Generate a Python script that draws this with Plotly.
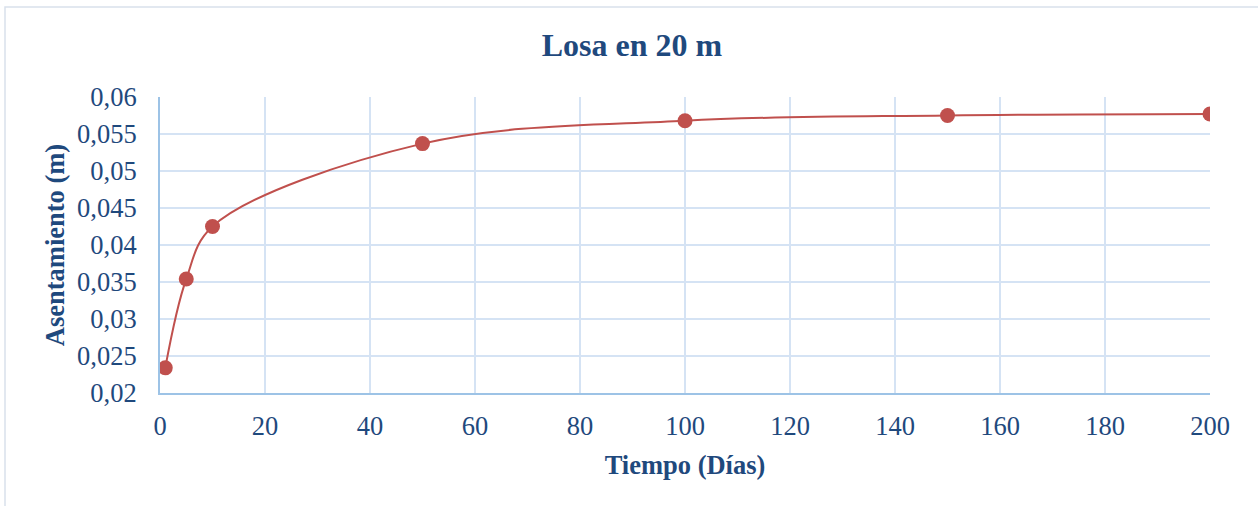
import plotly.graph_objects as go

# Settlement of a 20 m slab over time
dias = [1, 5, 10, 50, 100, 150, 200]
asentamiento = [0.0234, 0.0354, 0.0425, 0.0537, 0.0568, 0.0575, 0.0577]

y_ticks = [0.02, 0.025, 0.03, 0.035, 0.04, 0.045, 0.05, 0.055, 0.06]
y_tick_text = ["0,02", "0,025", "0,03", "0,035", "0,04", "0,045", "0,05", "0,055", "0,06"]
x_ticks = [0, 20, 40, 60, 80, 100, 120, 140, 160, 180, 200]

W, H = 1258, 506
M = dict(l=160, r=48, t=97, b=113)

TEXT = "#1F497D"
GRID = "#D5E3F4"
AXIS = "#9DC3E6"
RED = "#C0504D"
FONT = "Liberation Serif"

fig = go.Figure()
fig.add_trace(go.Scatter(
    x=dias, y=asentamiento,
    mode="lines+markers",
    line=dict(color=RED, width=2, shape="spline", smoothing=1),
    marker=dict(color=RED, size=15),
    showlegend=False,
))

# outer chart frame, pixel offsets converted to paper coordinates
pw = W - M["l"] - M["r"]
ph = H - M["t"] - M["b"]


def px_x(px):
    return (px - M["l"]) / pw


def px_y(py):
    return (H - M["b"] - py) / ph


fig.add_shape(
    type="rect", xref="paper", yref="paper",
    x0=px_x(5), x1=px_x(W + 5), y0=px_y(H + 5), y1=px_y(7),
    line=dict(color="#D9E1EC", width=1.5), fillcolor="rgba(0,0,0,0)", layer="below",
)

fig.update_layout(
    width=W, height=H,
    margin=M,
    paper_bgcolor="white", plot_bgcolor="white",
    font=dict(family=FONT, color=TEXT, size=26.5),
    title=dict(text="<b>Losa en 20 m</b>", x=632 / W, xref="container", xanchor="center",
               y=1 - 45 / H, yref="container", yanchor="middle",
               font=dict(size=32, color=TEXT, family=FONT)),
    xaxis=dict(
        range=[0, 200], tickvals=x_ticks, showgrid=True, gridcolor=GRID, gridwidth=1.5,
        showline=True, linecolor=AXIS, linewidth=2, zeroline=False,
        ticks="", ticklabelstandoff=8,
        title=dict(text="<b>Tiempo (Días)</b>", font=dict(size=26.5, color=TEXT, family=FONT), standoff=16),
    ),
    yaxis=dict(
        range=[0.02, 0.06], tickvals=y_ticks, ticktext=y_tick_text, showgrid=True,
        gridcolor=GRID, gridwidth=1.5, showline=True, linecolor=AXIS, linewidth=2,
        zeroline=False, ticks="", ticklabelstandoff=16,
        title=dict(text="<b>Asentamiento (m)</b>", font=dict(size=26.5, color=TEXT, family=FONT), standoff=5),
    ),
)

fig.write_html("out.html")
